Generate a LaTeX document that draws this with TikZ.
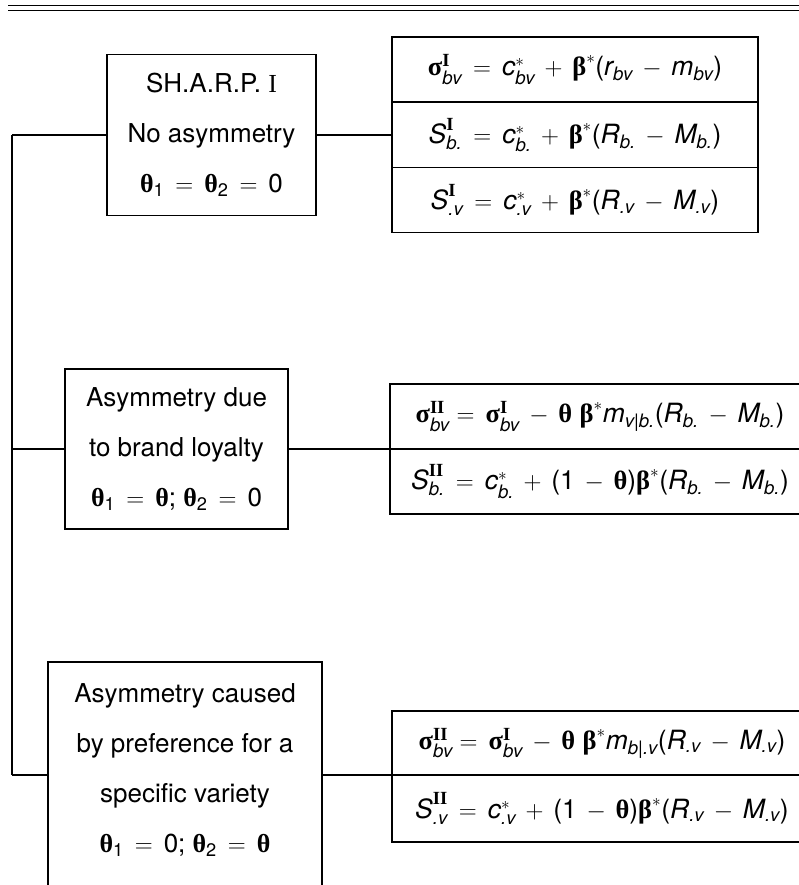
\documentclass[tikz,border=0pt]{standalone}
\usepackage{amsmath}
\usepackage{fontspec}
\setmainfont{TeX Gyre Heros}
\newfontfamily\grfont{Liberation Serif}
\newcommand\gr[1]{\text{\grfont\bfseries #1}}
\newcommand\iv[1]{\text{\itshape #1}}
\newcommand\rn[1]{\text{#1}}
\newcommand\eqs{\,=\,}
\newcommand\pls{\,+\,}
\newcommand\mns{\,-\,}
\begin{document}
\begin{tikzpicture}[x=1pt,y=-1pt,
  box/.style={draw, line width=1.4pt, inner sep=0pt, rectangle},
  eqrow/.style={box, minimum height=65pt, font=\fontsize{26.5}{30}\selectfont},
  lbl/.style={align=center, font=\fontsize{26}{50}\selectfont},
  conn/.style={line width=1.2pt}]
\clip (0,0) rectangle (799,885);
\useasboundingbox (0,0) rectangle (799,885);
% top double rule
\draw[line width=1.6pt] (8,5.5) -- (799,5.5);
\draw[line width=1.6pt] (8,10.5) -- (799,10.5);

% left boxes
\node[box, lbl, minimum width=209pt, minimum height=161pt] (b1) at (211.5,135)
  {SH.A.R.P. {\grfont I}\\No asymmetry\\$\gr{θ}_{\rn{1}} \eqs \gr{θ}_{\rn{2}} \eqs \rn{0}$};
\node[box, lbl, minimum width=223pt, minimum height=160pt] (b2) at (176.5,449)
  {Asymmetry due\\to brand loyalty\\$\gr{θ}_{\rn{1}} \eqs \gr{θ}\rn{;}\ \gr{θ}_{\rn{2}} \eqs \rn{0}$};
\node[box, minimum width=274pt, minimum height=238pt] (b3) at (185,781) {};
\node[lbl] (t3) at (185,770)
  {Asymmetry caused\\by preference for a\\specific variety\\$\gr{θ}_{\rn{1}} \eqs \rn{0}\rn{;}\ \gr{θ}_{\rn{2}} \eqs \gr{θ}$};

% right boxes: top
\node[eqrow, minimum width=366pt] (r1a) at (575,69.5)
  {$\gr{σ}^{\gr{I}}_{\iv{bv}} \eqs \iv{c}^{\ast}_{\iv{bv}} \pls \gr{β}^{\ast}\rn{(}\iv{r}_{\iv{bv}} \mns \iv{m}_{\iv{bv}}\rn{)}$};
\node[eqrow, minimum width=366pt] (r1b) at (575,135)
  {$\iv{S}^{\gr{I}}_{\iv{b.}} \eqs \iv{c}^{\ast}_{\iv{b.}} \pls \gr{β}^{\ast}\rn{(}\iv{R}_{\iv{b.}} \mns \iv{M}_{\iv{b.}}\rn{)}$};
\node[eqrow, minimum width=366pt] (r1c) at (575,200)
  {$\iv{S}^{\gr{I}}_{\iv{.v}} \eqs \iv{c}^{\ast}_{\iv{.v}} \pls \gr{β}^{\ast}\rn{(}\iv{R}_{\iv{.v}} \mns \iv{M}_{\iv{.v}}\rn{)}$};

% right boxes: middle
\node[eqrow, minimum width=420pt] (r2a) at (600,416.5)
  {$\gr{σ}^{\gr{II}}_{\iv{bv}}\!\eqs \gr{σ}^{\gr{I}}_{\iv{bv}} \mns \gr{θ}\ \gr{β}^{\ast}\iv{m}_{\iv{v|b.}}\rn{(}\iv{R}_{\iv{b.}} \mns \iv{M}_{\iv{b.}}\rn{)}$};
\node[eqrow, minimum width=420pt] (r2b) at (600,481.5)
  {$\iv{S}^{\gr{II}}_{\iv{b.}} \eqs \iv{c}^{\ast}_{\iv{b.}} \pls \rn{(1} \mns \gr{θ}\rn{)}\gr{β}^{\ast}\rn{(}\iv{R}_{\iv{b.}} \mns \iv{M}_{\iv{b.}}\rn{)}$};

% right boxes: bottom
\node[eqrow, minimum width=420pt, minimum height=64pt] (r3a) at (602,743)
  {$\gr{σ}^{\gr{II}}_{\iv{bv}}\!\eqs \gr{σ}^{\gr{I}}_{\iv{bv}} \mns \gr{θ}\ \gr{β}^{\ast}\iv{m}_{\iv{b|.v}}\rn{(}\iv{R}_{\iv{.v}} \mns \iv{M}_{\iv{.v}}\rn{)}$};
\node[eqrow, minimum width=420pt, minimum height=67pt] (r3b) at (602,808.5)
  {$\iv{S}^{\gr{II}}_{\iv{.v}} \eqs \iv{c}^{\ast}_{\iv{.v}} \pls \rn{(1} \mns \gr{θ}\rn{)}\gr{β}^{\ast}\rn{(}\iv{R}_{\iv{.v}} \mns \iv{M}_{\iv{.v}}\rn{)}$};

% connectors
\coordinate (j1) at (12,135);
\coordinate (j2) at (12,449);
\coordinate (j3) at (12,775);
\draw[conn] (j1) -- (j3);
\draw[conn] (j1) -- (b1.west);
\draw[conn] (b1.east) -- (r1b.west);
\draw[conn] (j2) -- (b2.west);
\draw[conn] (b2.east) -- (b2.east -| r2a.west);
\draw[conn] (j3) -- (j3 -| b3.west);
\draw[conn] (j3 -| b3.east) -- (j3 -| r3a.west);
\end{tikzpicture}
\end{document}
